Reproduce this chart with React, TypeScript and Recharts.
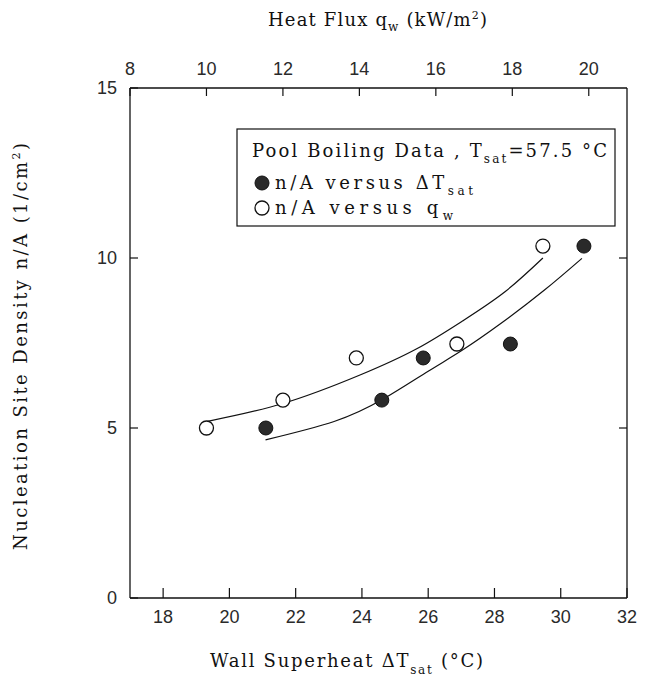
import React from "react";
import { ComposedChart, Scatter, Line, XAxis, YAxis } from "recharts";

// n/A measured against wall superheat (bottom axis)
const superheatPoints = [
  { x: 21.1, y: 5.0 },
  { x: 24.6, y: 5.82 },
  { x: 25.85, y: 7.06 },
  { x: 28.48, y: 7.47 },
  { x: 30.7, y: 10.35 },
];

// n/A measured against heat flux (top axis)
const heatFluxPoints = [
  { x: 10.0, y: 5.0 },
  { x: 12.0, y: 5.82 },
  { x: 13.92, y: 7.06 },
  { x: 16.55, y: 7.47 },
  { x: 18.8, y: 10.35 },
];

// fitted correlation curves
const superheatFit = [
  { x: 21.09, y: 4.65 },
  { x: 23.16, y: 5.19 },
  { x: 24.64, y: 5.85 },
  { x: 26.0, y: 6.67 },
  { x: 27.0, y: 7.27 },
  { x: 28.2, y: 8.08 },
  { x: 29.5, y: 9.05 },
  { x: 30.64, y: 9.99 },
];

const heatFluxFit = [
  { x: 10.0, y: 5.19 },
  { x: 12.0, y: 5.72 },
  { x: 14.0, y: 6.55 },
  { x: 15.5, y: 7.33 },
  { x: 16.7, y: 8.15 },
  { x: 17.8, y: 9.0 },
  { x: 18.8, y: 10.0 },
];

const superheatTicks = [18, 20, 22, 24, 26, 28, 30, 32];
const heatFluxTicks = [8, 10, 12, 14, 16, 18, 20];
const densityTicks = [0, 5, 10, 15];
const rightTicks = [5, 10];

const SERIF = "'DejaVu Serif', serif";
const SANS = "'Liberation Sans', Arial, sans-serif";
const INK = "#111";

const labelProps = { fontFamily: SANS, fontSize: 18, fill: "#2a2a2a" };
const axisLine = { stroke: INK, strokeWidth: 1.3 };

// tick renderers: inward tick mark plus the value label
const BottomTick = (p: any) => (
  <g>
    <line x1={p.x} y1={p.y} x2={p.x} y2={p.y - 10} stroke={INK} strokeWidth={1.2} />
    <text x={p.x} y={p.y + 25} textAnchor="middle" {...labelProps}>
      {p.payload.value}
    </text>
  </g>
);
const TopTick = (p: any) => (
  <g>
    <line x1={p.x} y1={p.y} x2={p.x} y2={p.y + 8} stroke={INK} strokeWidth={1.2} />
    <text x={p.x} y={p.y - 13} textAnchor="middle" {...labelProps}>
      {p.payload.value}
    </text>
  </g>
);
const LeftTick = (p: any) => (
  <g>
    <line x1={p.x} y1={p.y} x2={p.x + 8} y2={p.y} stroke={INK} strokeWidth={1.2} />
    <text x={p.x - 13} y={p.y + 6} textAnchor="end" {...labelProps}>
      {p.payload.value}
    </text>
  </g>
);
const RightTick = (p: any) => (
  <line x1={p.x} y1={p.y} x2={p.x - 8} y2={p.y} stroke={INK} strokeWidth={1.2} />
);

const FilledDot = (p: any) => (
  <circle cx={p.cx} cy={p.cy} r={7} fill="#2a2a2a" stroke={INK} strokeWidth={1} />
);
const OpenDot = (p: any) => (
  <circle cx={p.cx} cy={p.cy} r={7} fill="#fff" stroke={INK} strokeWidth={1.3} />
);

export default function App() {
  return (
    <div style={{ position: "relative", width: 641, height: 679 }}>
      <ComposedChart
        width={641}
        height={679}
        margin={{ top: 40, right: 12, bottom: 49, left: 62 }}
      >
        <XAxis
          xAxisId="dt"
          dataKey="x"
          type="number"
          orientation="bottom"
          domain={[17, 32]}
          ticks={superheatTicks}
          allowDataOverflow
          height={40}
          tickSize={0}
          tickMargin={0}
          tick={BottomTick}
          axisLine={axisLine}
          tickLine={false}
        />
        <XAxis
          xAxisId="q"
          dataKey="x"
          type="number"
          orientation="top"
          domain={[8, 21]}
          ticks={heatFluxTicks}
          allowDataOverflow
          height={40}
          tickSize={0}
          tickMargin={0}
          tick={TopTick}
          axisLine={axisLine}
          tickLine={false}
        />
        <YAxis
          yAxisId="l"
          dataKey="y"
          type="number"
          orientation="left"
          domain={[0, 15]}
          ticks={densityTicks}
          allowDataOverflow
          width={60}
          tickSize={0}
          tickMargin={0}
          tick={LeftTick}
          axisLine={axisLine}
          tickLine={false}
        />
        <YAxis
          yAxisId="r"
          type="number"
          orientation="right"
          domain={[0, 15]}
          ticks={rightTicks}
          allowDataOverflow
          width={10}
          tickSize={0}
          tickMargin={0}
          tick={RightTick}
          axisLine={axisLine}
          tickLine={false}
        />

        <Line
          xAxisId="dt"
          yAxisId="l"
          data={superheatFit}
          dataKey="y"
          type="natural"
          stroke={INK}
          strokeWidth={1.2}
          dot={false}
          activeDot={false}
          isAnimationActive={false}
        />
        <Line
          xAxisId="q"
          yAxisId="l"
          data={heatFluxFit}
          dataKey="y"
          type="natural"
          stroke={INK}
          strokeWidth={1.2}
          dot={false}
          activeDot={false}
          isAnimationActive={false}
        />
        <Scatter
          xAxisId="dt"
          yAxisId="l"
          data={superheatPoints}
          dataKey="y"
          shape={FilledDot}
          isAnimationActive={false}
        />
        <Scatter
          xAxisId="q"
          yAxisId="l"
          data={heatFluxPoints}
          dataKey="y"
          shape={OpenDot}
          isAnimationActive={false}
        />

        {/* axis titles */}
        <g fontFamily={SERIF} fill={INK}>
          <text x={260} y={18} fontSize={18} textLength={219} lengthAdjust="spacing">
            Heat Flux q
            <tspan fontSize={12} dy={5}>w</tspan>
            <tspan dy={-5}> (kW/m</tspan>
            <tspan fontSize={11} dy={-7}>2</tspan>
            <tspan dy={7}>)</tspan>
          </text>
          <text x={202} y={659} fontSize={18} textLength={273} lengthAdjust="spacing">
            Wall Superheat ΔT
            <tspan fontSize={12} dy={7}>sat</tspan>
            <tspan dy={-7}> (°C)</tspan>
          </text>
          <text
            x={0}
            y={0}
            fontSize={18}
            textLength={407}
            lengthAdjust="spacing"
            transform="translate(19,542) rotate(-90)"
          >
            Nucleation Site Density n/A (1/cm
            <tspan fontSize={11} dy={-7}>2</tspan>
            <tspan dy={7}>)</tspan>
          </text>
        </g>

        {/* legend box */}
        <g fontFamily={SERIF} fill={INK}>
          <rect x={229} y={121} width={378} height={97} fill="#fff" stroke={INK} strokeWidth={1.2} />
          <text x={244} y={149} fontSize={18} textLength={355} lengthAdjust="spacing">
            Pool Boiling Data , T
            <tspan fontSize={12} dy={6}>sat</tspan>
            <tspan dy={-6}>=57.5 °C</tspan>
          </text>
          <circle cx={254} cy={175} r={7} fill="#2a2a2a" stroke={INK} strokeWidth={1} />
          <text x={267} y={181} fontSize={18} textLength={198} lengthAdjust="spacing">
            n/A versus ΔT
            <tspan fontSize={12} dy={6}>sat</tspan>
          </text>
          <circle cx={254} cy={200} r={7} fill="#fff" stroke={INK} strokeWidth={1.3} />
          <text x={267} y={206} fontSize={18} textLength={178} lengthAdjust="spacing">
            n/A versus q
            <tspan fontSize={12} dy={6}>w</tspan>
          </text>
        </g>
      </ComposedChart>
    </div>
  );
}
